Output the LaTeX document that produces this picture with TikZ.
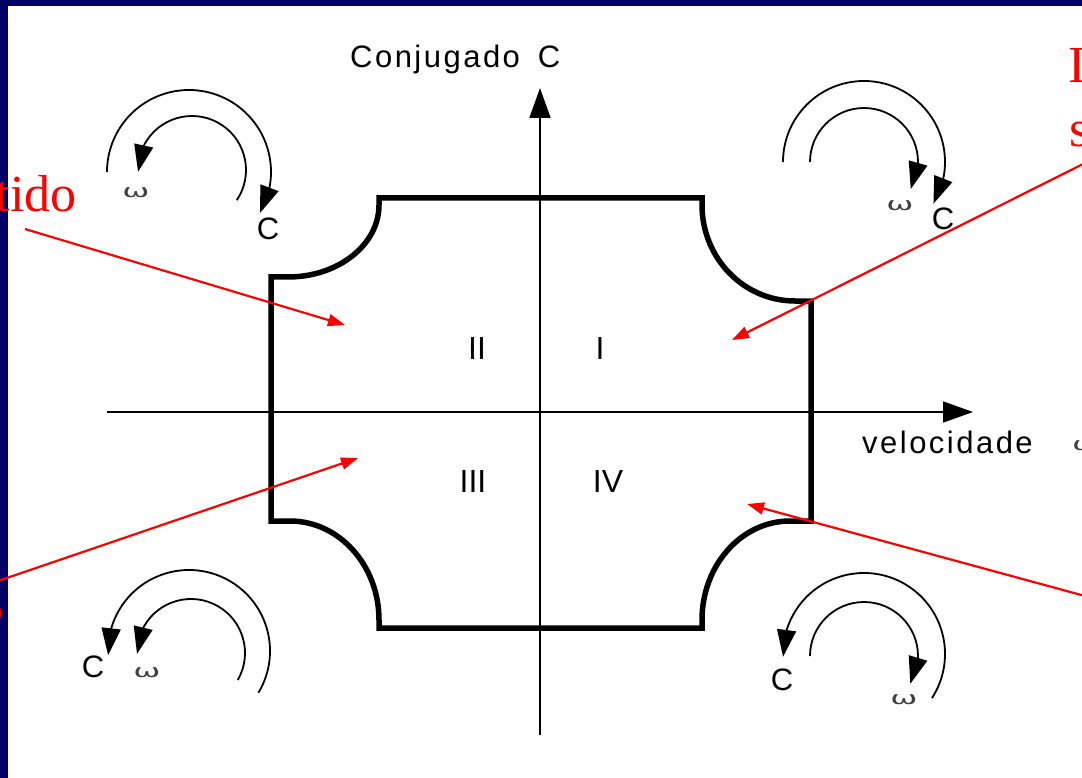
\documentclass[tikz,border=0pt]{standalone}
\usepackage{fontspec}
\usepackage{graphicx}
\setmainfont{Liberation Serif}
\setsansfont{Liberation Sans}
\newfontfamily\omegafont{DejaVu Sans}
\newfontfamily\labelfont[LetterSpace=8]{Liberation Sans}
\usetikzlibrary{arrows.meta,bending}
\definecolor{navy}{RGB}{0,0,102}
\newcommand{\wideomega}{\scalebox{1.8}[1]{ω}}
\begin{document}
\begin{tikzpicture}[x=1pt,y=1pt,
  axis/.style={line width=1.8pt, -{Triangle[length=30pt,width=21pt]}},
  border/.style={line width=5.5pt, line join=miter},
  rot/.style={line width=1.8pt, -{Triangle[length=27pt,width=19pt]}},
  lab/.style={inner sep=0pt, font=\labelfont\fontsize{31pt}{33pt}\selectfont},
  quad/.style={inner sep=0pt, font=\sffamily\fontsize{32pt}{34pt}\selectfont},
  clab/.style={inner sep=0pt, font=\sffamily\fontsize{31pt}{33pt}\selectfont},
  om/.style={inner sep=0pt, text=black!75, font=\omegafont\fontsize{18pt}{20pt}\selectfont},
  note/.style={red, line width=2.2pt, -{Triangle[length=17pt,width=12pt]}},
  redtxt/.style={red, inner sep=0pt, font=\rmfamily\fontsize{52pt}{56pt}\selectfont}
]
\useasboundingbox (0,0) rectangle (1082,-778);
\clip (0,0) rectangle (1082,-778);
% background
\fill[white] (0,0) rectangle (1082,-778);
\fill[navy] (0,0) rectangle (1082,-6);
\fill[navy] (0,0) rectangle (8,-778);

% operating region
\draw[border] (379,-198) -- (702,-198) -- (702,-205)
  arc[start angle=180, end angle=270, x radius=93, y radius=96]
  -- (811,-301) -- (811,-521) -- (790,-521)
  arc[start angle=90, end angle=180, x radius=88, y radius=99]
  -- (702,-628) -- (379,-628) -- (379,-620)
  arc[start angle=0, end angle=90, x radius=89, y radius=99]
  -- (271,-521) -- (271,-277) -- (288,-277)
  arc[start angle=270, end angle=360, x radius=91, y radius=72]
  -- cycle;

% axes
\coordinate (xs) at (107,-412);
\coordinate (xe) at (973,-412);
\coordinate (ys) at (540,-735);
\coordinate (ye) at (540,-88);
\draw[axis] (xs) -- (xe);
\draw[axis] (ys) -- (ye);

\node[lab, anchor=base west] (conj) at (350,-68) {Conjugado\hspace{18pt}C};
\node[lab, anchor=base west] (vel) at (862,-453) {velocidade};
\node[om, anchor=west] (velw) at (1072,-446) {\wideomega};

% quadrant numbers
\node[quad] (q1) at (600,-348.5) {I};
\node[quad] (q2) at (477,-348.5) {II};
\node[quad] (q3) at (473,-481.5) {III};
\node[quad] (q4) at (608,-481.5) {IV};

% rotation symbols
\draw[rot] (189,-172) ++(180:82) arc[start angle=180, end angle=-30, radius=82];
\draw[rot] (192,-170) ++(-34:54) arc[start angle=-34, end angle=182, radius=54];
\draw[rot] (864,-162) ++(180:81) arc[start angle=180, end angle=-31, radius=81];
\draw[rot] (864,-162) ++(180:54) arc[start angle=180, end angle=-30, radius=54];
\draw[rot] (189,-651) ++(-31:81) arc[start angle=-31, end angle=183, radius=81];
\draw[rot] (191,-653) ++(-30:54) arc[start angle=-30, end angle=181, radius=54];
\draw[rot] (864,-654) ++(-33:81) arc[start angle=-33, end angle=182, radius=81];
\draw[rot] (864,-656) ++(180:54) arc[start angle=180, end angle=-31, radius=54];

\node[clab] (ctl) at (268,-229) {C};
\node[clab] (ctr) at (943,-219) {C};
\node[clab] (cbl) at (93,-667) {C};
\node[clab] (cbr) at (782,-680) {C};
\node[om] (wtl) at (136,-193) {\wideomega};
\node[om] (wtr) at (900,-206) {\wideomega};
\node[om] (wbl) at (147,-673) {\wideomega};
\node[om] (wbr) at (904,-700) {\wideomega};

% red annotations
\node[redtxt, anchor=base east] (t1) at (77,-212) {tido};
\node[redtxt, anchor=base west] (t2) at (1068,-83) {I};
\node[redtxt, anchor=base west] (t3) at (1069,-147) {s};
\node[redtxt, anchor=base east] (t4) at (4,-625) {o};

\coordinate (n1s) at (25,-229);
\coordinate (n1e) at (345,-325);
\coordinate (n2s) at (1085,-163);
\coordinate (n2e) at (732,-340);
\coordinate (n3s) at (-2,-581);
\coordinate (n3e) at (358,-458);
\coordinate (n4s) at (1085,-596);
\coordinate (n4e) at (747,-504);
\draw[note] (n1s) -- (n1e);
\draw[note] (n2s) -- (n2e);
\draw[note] (n3s) -- (n3e);
\draw[note] (n4s) -- (n4e);
\end{tikzpicture}
\end{document}
